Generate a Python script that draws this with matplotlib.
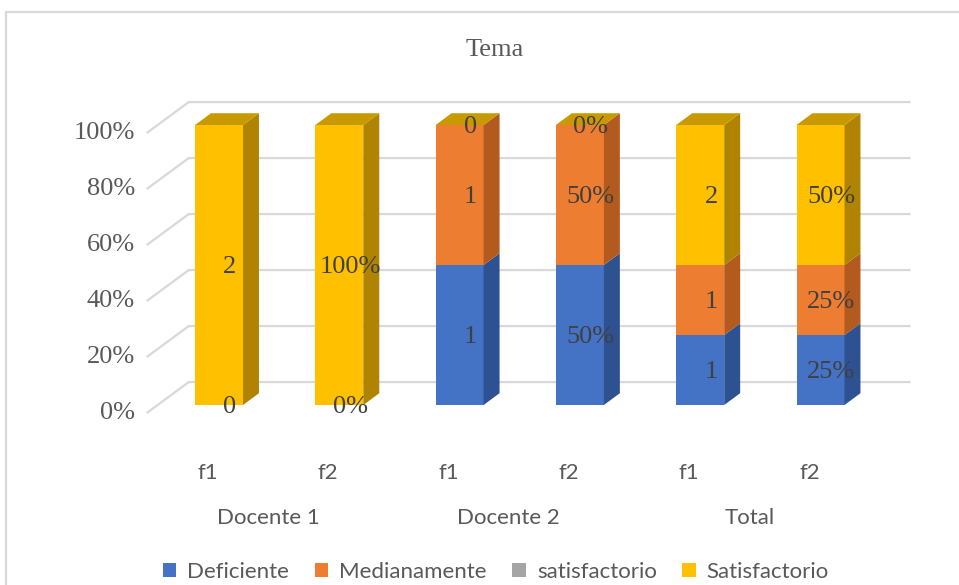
import numpy as np
import matplotlib.pyplot as plt
from matplotlib.patches import Polygon, Rectangle

# datos
categorias = ["f1", "f2", "f1", "f2", "f1", "f2"]
grupos = ["Docente 1", "Docente 2", "Total"]
series = ["Deficiente", "Medianamente", "satisfactorio", "Satisfactorio"]
deficiente = [0, 0, 1, 50, 1, 25]
medianamente = [0, 0, 1, 50, 1, 25]
satisf_gris = [0, 0, 0, 0, 0, 0]
satisfactorio = [2, 100, 0, 0, 2, 50]
es_porcentaje = [False, True, False, True, False, True]
ticks = [0, 0.2, 0.4, 0.6, 0.8, 1.0]

colores = ["#4472C4", "#ED7D31", "#A5A5A5", "#FFC000"]
lados = ["#2E5192", "#B35A1F", "#7F7F7F", "#B08400"]
tapa = "#C99A00"
gris = "#d9d9d9"

serif = "Liberation Serif"
sans = "Lato"

W, H = 959, 585
fig = plt.figure(figsize=(W / 100, H / 100), dpi=100)
ax = fig.add_axes([0, 0, 1, 1])
ax.axis("off")

# escala en pixeles: x = 219 + 120.3 * i, y = 405 - 280 * v
sx, sy = 120.3, 280.0
ax.set_xlim(-219 / sx, (W - 219) / sx)
ax.set_ylim((405 - H) / sy, 405 / sy)

# direccion de profundidad (42px a la derecha, 31px hacia arriba)
D = np.array([42 / sx, 31 / sy])
frente = -0.26 * D
fondo = 0.74 * D
prof = 0.38 * D

datos = np.array([deficiente, medianamente, satisf_gris, satisfactorio], dtype=float)
totales = datos.sum(axis=0)
frac = datos / totales
x = np.arange(len(categorias))
ancho = 48 / sx

# rejilla: diagonal del piso + linea en la pared del fondo
izq, der = -0.51, 5.49
for t in ticks:
    p0 = np.array([izq, t]) + frente
    p1 = np.array([izq, t]) + fondo
    p2 = np.array([der, t]) + fondo
    ax.plot([p0[0], p1[0], p2[0]], [p0[1], p1[1], p2[1]], color=gris, lw=1.6,
            zorder=1, solid_capstyle="butt")
    ax.text(-84 / sx, t + frente[1], f"{t:.0%}", ha="right", va="center",
            fontsize=19, family=serif, color="#595959")

# barras apiladas al 100%
base = np.zeros(len(x))
handles = []
for k, nombre in enumerate(series):
    bars = ax.bar(x, frac[k], bottom=base, width=ancho, color=colores[k],
                  zorder=3, label=nombre)
    handles.append(bars)
    for r in bars:
        x0, y0 = r.get_x(), r.get_y()
        w, h = r.get_width(), r.get_height()
        if h <= 0:
            continue
        lado = Polygon([(x0 + w, y0), (x0 + w + prof[0], y0 + prof[1]),
                        (x0 + w + prof[0], y0 + h + prof[1]), (x0 + w, y0 + h)],
                       closed=True, facecolor=lados[k], edgecolor="none", zorder=3)
        ax.add_patch(lado)
    base = base + frac[k]

# tapa superior de cada columna
for i in x:
    x0 = i - ancho / 2
    top = base[i]
    ax.add_patch(Polygon([(x0, top), (x0 + ancho, top),
                          (x0 + ancho + prof[0], top + prof[1]), (x0 + prof[0], top + prof[1])],
                         closed=True, facecolor=tapa, edgecolor="none", zorder=3))

# etiquetas de datos (sin la serie gris)
for i in x:
    acum = 0.0
    vistos = set()
    for k in range(len(series)):
        f = frac[k, i]
        pos = round(acum + f / 2, 4)
        acum += f
        if k == 2 or pos in vistos:
            continue
        vistos.add(pos)
        v = datos[k, i]
        txt = f"{v:g}%" if es_porcentaje[i] else f"{v:g}"
        ax.text(i + 11 / sx, pos - 2 / sy, txt, ha="center", va="center", fontsize=19,
                family=serif, color="#404040", zorder=5)

# etiquetas del eje x
for i, c in enumerate(categorias):
    ax.text(i - 11 / sx, -68 / sy, c, ha="center", va="center", fontsize=16,
            family=sans, color="#595959")
for g, nombre in enumerate(grupos):
    ax.text(2 * g + 0.5 - 11 / sx, -113 / sy, nombre, ha="center", va="center",
            fontsize=16, family=sans, color="#595959")

fig.text(495 / W, 1 - 50 / H, "Tema", ha="center", va="center", fontsize=19,
         family=serif, color="#595959")

fig.legend(handles=handles, labels=series, loc="center", bbox_to_anchor=(496 / W, 1 - 572 / H),
           ncol=4, frameon=False, handlelength=0.6, handleheight=0.6, handletextpad=0.5,
           columnspacing=1.15, prop={"family": sans, "size": 16}, labelcolor="#595959")

# marco del grafico
fig.add_artist(Rectangle((6 / W, -0.1), 1.1, 0.1 + 1 - 12 / H, transform=fig.transFigure,
                         fill=False, edgecolor=gris, lw=1.6))

fig.savefig("out.png", dpi=100)
